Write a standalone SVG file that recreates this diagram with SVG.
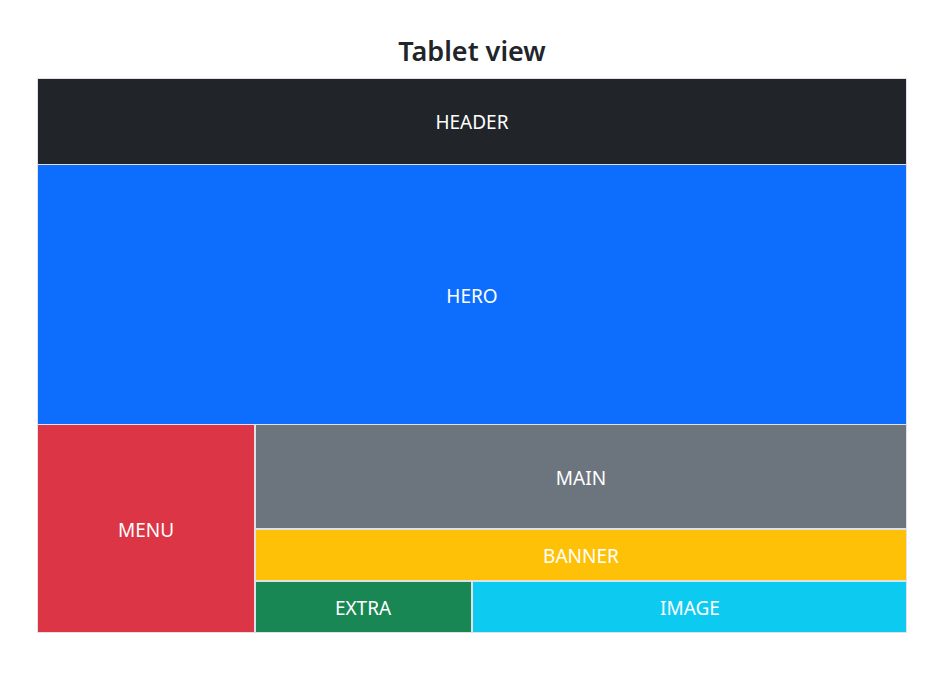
<svg xmlns="http://www.w3.org/2000/svg" width="927" height="697" viewBox="0 0 927 697">
<style>
.t{font-family:"Noto Sans","Open Sans","Liberation Sans",sans-serif;font-size:19px;fill:#ffffff;text-anchor:middle;dominant-baseline:central}
.title{font-family:"Noto Sans","Open Sans","Liberation Sans",sans-serif;font-size:27px;font-weight:600;fill:#212529;text-anchor:middle}
</style>
<rect width="927" height="697" fill="#ffffff"/>
<text class="title" x="472" y="61">Tablet view</text>
<rect x="37" y="78" width="870" height="555" fill="#dee2e6"/>
<g id="header"><rect x="38" y="79" width="868" height="85" fill="#212529"/><text class="t" x="472" y="122">HEADER</text></g>
<g id="hero"><rect x="38" y="165" width="868" height="259" fill="#0d6efd"/><text class="t" x="472" y="296">HERO</text></g>
<g id="menu"><rect x="38" y="425" width="216" height="207" fill="#dc3545"/><text class="t" x="146" y="530">MENU</text></g>
<g id="main"><rect x="256" y="425" width="650" height="103" fill="#6c757d"/><text class="t" x="581" y="478">MAIN</text></g>
<g id="banner"><rect x="256" y="530" width="650" height="50" fill="#ffc107"/><text class="t" x="581" y="556">BANNER</text></g>
<g id="extra"><rect x="256" y="582" width="215" height="50" fill="#198754"/><text class="t" x="363" y="608">EXTRA</text></g>
<g id="image"><rect x="473" y="582" width="433" height="50" fill="#0dcaf0"/><text class="t" x="690" y="608">IMAGE</text></g>
<g id="connectors"/>
</svg>
